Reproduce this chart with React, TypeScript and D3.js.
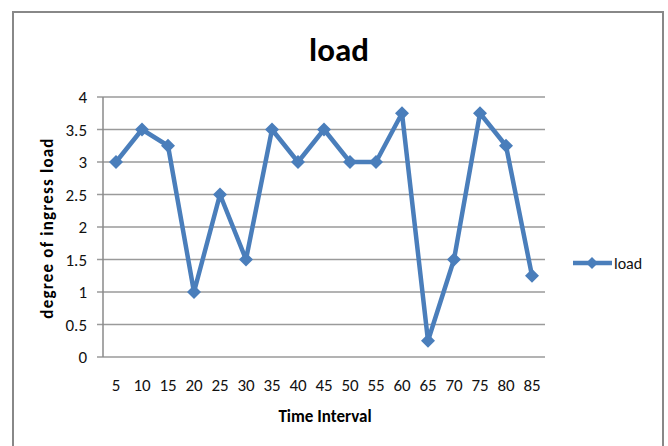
import React from "react";
import * as d3 from "d3";

const categories = ["5", "10", "15", "20", "25", "30", "35", "40", "45", "50", "55", "60", "65", "70", "75", "80", "85"];
const loadValues = [3, 3.5, 3.25, 1, 2.5, 1.5, 3.5, 3, 3.5, 3, 3, 3.75, 0.25, 1.5, 3.75, 3.25, 1.25];
const yTicks = [0, 0.5, 1, 1.5, 2, 2.5, 3, 3.5, 4];

const font = "Carlito, 'Open Sans', sans-serif";
const blue = "#4a7ebb";

export default function App() {
  const width = 668;
  const height = 446;
  const margin = { top: 97, right: 123, bottom: 89, left: 103 };

  const x = d3.scaleBand().domain(categories).range([margin.left, width - margin.right]);
  const y = d3.scaleLinear().domain([0, 4]).range([height - margin.bottom, margin.top]);

  const line = d3.line<number>()
    .x((d, i) => x(categories[i])! + x.bandwidth() / 2)
    .y(d => y(d));

  const diamond = (cx: number, cy: number, r: number) =>
    `M${cx},${cy - r}L${cx + r},${cy}L${cx},${cy + r}L${cx - r},${cy}Z`;

  return (
    <svg width={width} height={height} style={{ position: "absolute", left: 0, top: 0, background: "#fff" }}>
      <rect x={13} y={12} width={650} height={445} fill="#fff" stroke="#888" strokeWidth={2} />
      <text x={339} y={61} textAnchor="middle" fontFamily={font} fontWeight="bold" fontSize={33}>load</text>

      {yTicks.map(t => (
        <g key={t}>
          <line x1={margin.left - 6} x2={width - margin.right} y1={y(t)} y2={y(t)} stroke="#9a9a9a" strokeWidth={1.5} />
          <text x={margin.left - 16} y={y(t) + 6} textAnchor="end" fontFamily={font} fontSize={17} fill="#111">{t}</text>
        </g>
      ))}
      <line x1={margin.left} x2={margin.left} y1={margin.top} y2={y(0)} stroke="#8a8a8a" strokeWidth={1.5} />

      {categories.map(c => (
        <text key={c} x={x(c)! + x.bandwidth() / 2} y={y(0) + 34} textAnchor="middle" fontFamily={font} fontSize={17} fill="#111">{c}</text>
      ))}

      <text x={325} y={422} textAnchor="middle" fontFamily={font} fontWeight="bold" fontSize={17}>Time Interval</text>
      <text transform={`translate(53,228) rotate(-90)`} textAnchor="middle" fontFamily={font} fontWeight="bold" fontSize={17} letterSpacing={1.2}>degree of ingress  load</text>

      <path d={line(loadValues)!} fill="none" stroke={blue} strokeWidth={4.5} strokeLinejoin="round" />
      {loadValues.map((v, i) => (
        <path key={i} d={diamond(x(categories[i])! + x.bandwidth() / 2, y(v), 7)} fill={blue} />
      ))}

      <line x1={573} x2={612} y1={263} y2={263} stroke={blue} strokeWidth={4.5} />
      <path d={diamond(592, 263, 6)} fill={blue} />
      <text x={614} y={269} fontFamily={font} fontSize={16} fill="#111">load</text>
    </svg>
  );
}
